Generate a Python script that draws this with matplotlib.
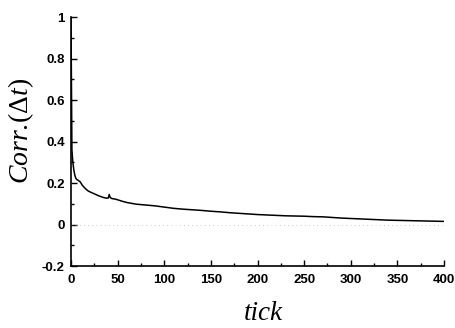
import matplotlib
matplotlib.use("Agg")
import matplotlib.pyplot as plt
from matplotlib.ticker import MultipleLocator

plt.rcParams["mathtext.fontset"] = "custom"
plt.rcParams["mathtext.rm"] = "Liberation Serif"
plt.rcParams["mathtext.it"] = "Liberation Serif:italic"
plt.rcParams["mathtext.bf"] = "Liberation Serif:bold"

ticks = [0, 1, 2, 3, 4, 5, 6, 8, 10, 12, 15, 18, 20, 25, 30, 35, 38, 40, 41, 42, 44, 48,
         55, 60, 65, 70, 80, 90, 100, 110, 120, 130, 140, 150, 160, 170, 180, 190, 200,
         210, 220, 230, 240, 250, 260, 270, 280, 290, 300, 310, 320, 330, 340, 350, 360,
         370, 380, 390, 400]
corr = [1.0, 0.36, 0.30, 0.265, 0.24, 0.225, 0.218, 0.212, 0.205, 0.19, 0.175, 0.163,
        0.158, 0.148, 0.138, 0.130, 0.127, 0.128, 0.145, 0.13, 0.125, 0.122,
        0.112, 0.106, 0.102, 0.098, 0.094, 0.090, 0.084, 0.078, 0.074, 0.071, 0.068,
        0.064, 0.061, 0.057, 0.054, 0.051, 0.048, 0.046, 0.044, 0.042, 0.041, 0.040,
        0.038, 0.037, 0.034, 0.031, 0.029, 0.027, 0.025, 0.023, 0.021, 0.020, 0.019,
        0.018, 0.017, 0.016, 0.015]
base_x = [0, 400]
base_y = [0, 0]

xticks = [0, 50, 100, 150, 200, 250, 300, 350, 400]
yticks = [-0.2, 0, 0.2, 0.4, 0.6, 0.8, 1]
yticklabels = ["-0.2", "0", "0.2", "0.4", "0.6", "0.8", "1"]

fig = plt.figure(figsize=(4.55, 3.28), dpi=100)
ax = fig.add_axes([0.156, 0.189, 0.82, 0.759])

ax.plot(base_x, base_y, color="#bbbbbb", lw=0.6, ls=(0, (1, 4)))
ax.plot(ticks, corr, color="black", lw=1.1)

ax.set_xlim(0, 400)
ax.set_ylim(-0.2, 1)
ax.spines["top"].set_visible(False)
ax.spines["right"].set_visible(False)
for s in ("left", "bottom"):
    ax.spines[s].set_linewidth(1.2)

ax.set_xticks(xticks)
ax.set_xticklabels([str(v) for v in xticks])
ax.set_yticks(yticks)
ax.set_yticklabels(yticklabels)
ax.xaxis.set_minor_locator(MultipleLocator(25))
ax.yaxis.set_minor_locator(MultipleLocator(0.1))
ax.tick_params(which="both", direction="in", width=1)
ax.tick_params(which="major", length=4)
ax.tick_params(axis="y", which="major", pad=4.5)
ax.tick_params(axis="x", which="major", pad=6)
ax.tick_params(which="minor", length=2.5)
for lab in ax.get_xticklabels() + ax.get_yticklabels():
    lab.set_fontfamily("Liberation Sans")
    lab.set_fontweight("bold")
    lab.set_fontsize(9.5)

ax.set_xlabel("tick", fontfamily="Liberation Serif", fontstyle="italic", fontsize=19.5)
ax.set_ylabel(r"$Corr.\!(\Delta t)$", fontsize=20)
ax.xaxis.set_label_coords(0.515, -0.14)
ax.yaxis.set_label_coords(-0.095, 0.542)

fig.savefig("out.png", dpi=100)
